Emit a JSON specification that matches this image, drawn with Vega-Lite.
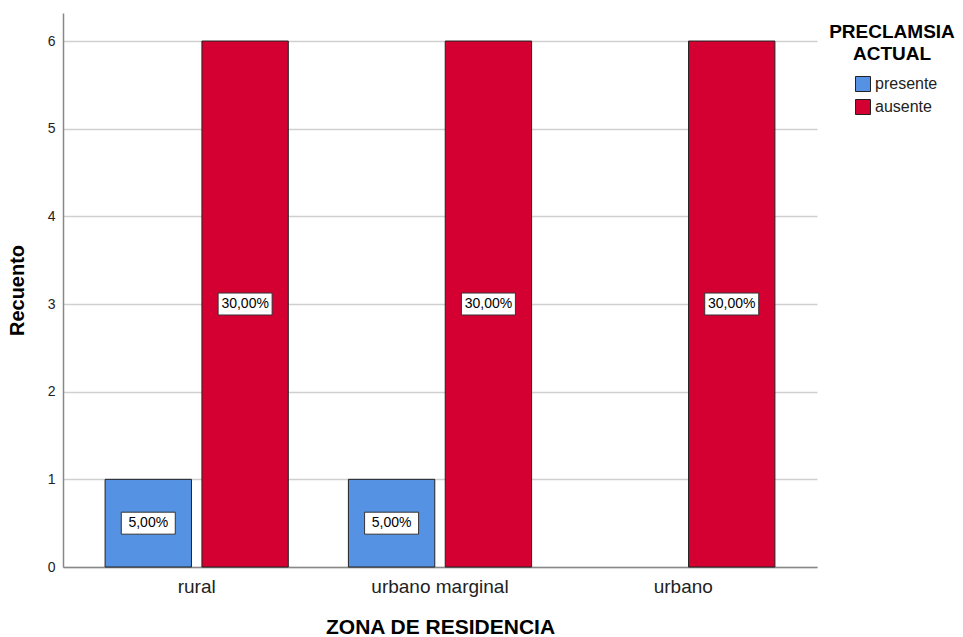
{
  "$schema": "https://vega.github.io/schema/vega-lite/v6.json",
  "width": 754,
  "height": 554,
  "autosize": {"type": "none"},
  "padding": {"left": 63, "top": 13, "right": 146, "bottom": 70},
  "background": "white",
  "config": {"font": "Liberation Sans", "view": {"stroke": null}},
  "data": {"values": [
    {"zona": "rural", "pre": "presente", "n": 1, "pct": "5,00%"},
    {"zona": "rural", "pre": "ausente", "n": 6, "pct": "30,00%"},
    {"zona": "urbano marginal", "pre": "presente", "n": 1, "pct": "5,00%"},
    {"zona": "urbano marginal", "pre": "ausente", "n": 6, "pct": "30,00%"},
    {"zona": "urbano", "pre": "ausente", "n": 6, "pct": "30,00%"}
  ]},
  "transform": [{"calculate": "datum.n/2", "as": "mid"}],
  "encoding": {
    "x": {
      "field": "zona", "type": "nominal",
      "sort": ["rural", "urbano marginal", "urbano"],
      "scale": {"paddingInner": 0.247, "paddingOuter": 0.173},
      "axis": {
        "labelAngle": 0, "ticks": false, "labelFontSize": 19, "labelColor": "#222",
        "labelPadding": 10, "domainColor": "#888", "domainWidth": 1.5,
        "title": "ZONA DE RESIDENCIA", "titleFontSize": 21, "titleFontWeight": "bold",
        "titleColor": "#000", "titlePadding": 20, "grid": false
      }
    },
    "xOffset": {
      "field": "pre", "type": "nominal", "sort": ["presente", "ausente"],
      "scale": {"paddingInner": 0.108, "paddingOuter": 0}
    }
  },
  "layer": [
    {
      "mark": {"type": "bar", "stroke": "#222", "strokeWidth": 1},
      "encoding": {
        "y": {
          "field": "n", "type": "quantitative",
          "scale": {"domain": [0, 6.32], "nice": false},
          "axis": {
            "values": [0, 1, 2, 3, 4, 5, 6], "format": "d", "ticks": false, "labelFontSize": 14,
            "labelColor": "#222", "labelPadding": 8, "domainColor": "#888", "domainWidth": 1.5,
            "gridColor": "#d0d0d0", "gridWidth": 1.5,
            "title": "Recuento", "titleFontSize": 20, "titleFontWeight": "bold",
            "titleColor": "#000", "titlePadding": 20
          }
        },
        "color": {
          "field": "pre", "type": "nominal",
          "scale": {"domain": ["presente", "ausente"], "range": ["#5592e3", "#d50032"]},
          "legend": {
            "title": ["PRECLAMSIA", "ACTUAL"], "titleFontSize": 19, "titleFontWeight": "bold",
            "titleColor": "#000", "titleAnchor": "middle", "titleAlign": "center",
            "titleLineHeight": 22, "titlePadding": 12,
            "orient": "none", "legendX": 766, "legendY": 10,
            "symbolType": "square", "symbolSize": 225, "symbolStrokeColor": "#222",
            "symbolStrokeWidth": 1, "symbolOpacity": 1, "symbolOffset": 8,
            "labelFontSize": 16, "labelColor": "#222", "labelOffset": 4, "rowPadding": 3
          }
        }
      }
    },
    {
      "mark": {"type": "point", "shape": "M-1,-0.407H1V0.407H-1Z", "filled": true, "fill": "white",
               "stroke": "#333", "strokeWidth": 1, "size": 2916, "opacity": 1},
      "encoding": {"y": {"field": "mid", "type": "quantitative"}}
    },
    {
      "mark": {"type": "text", "fontSize": 14, "color": "#000"},
      "encoding": {"y": {"field": "mid", "type": "quantitative"}, "text": {"field": "pct"}}
    }
  ]
}
